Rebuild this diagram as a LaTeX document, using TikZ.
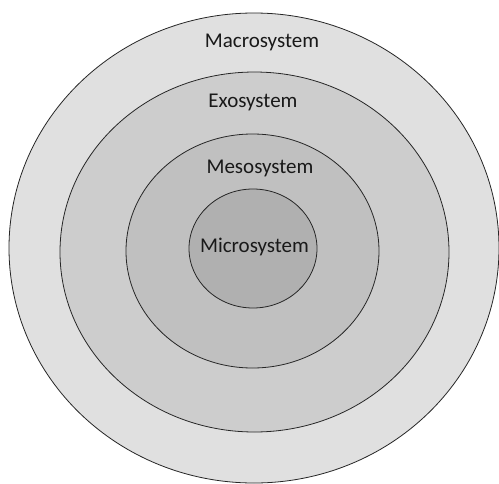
\documentclass[tikz,border=0pt]{standalone}
\usepackage{fontspec}
\setmainfont{Carlito}
\usetikzlibrary{positioning}
\definecolor{macrocol}{RGB}{224,224,224}
\definecolor{exocol}{RGB}{205,205,205}
\definecolor{mesocol}{RGB}{192,192,192}
\definecolor{microcol}{RGB}{176,176,176}
\tikzset{
    ring/.style={draw=black!85, line width=0.8pt},
    ringlabel/.style={font=\fontsize{21}{25}\selectfont, text=black!90, inner sep=0pt}
}
\begin{document}
\begin{tikzpicture}[x=1pt,y=-1pt]
            \useasboundingbox (0,0) rectangle (499,483);
            \clip (0,0) rectangle (499,483);
            % sistemi
            \draw[ring, fill=macrocol](254,248) ellipse [x radius=245, y radius=235];
            \draw[ring, fill=exocol](254.5,252) ellipse [x radius=194.5, y radius=180];
            \draw[ring, fill=mesocol](252.5,251) ellipse [x radius=126.5, y radius=117];
            \draw[ring, fill=microcol](253,248.5) ellipse [x radius=64, y radius=59.5];
            %label
            \node[ringlabel] (macro) at (262,42) {Macrosystem};
            \node[ringlabel] (exo) at (253,102) {Exosystem};
            \node[ringlabel] (meso) at (260,168) {Mesosystem};
            \node[ringlabel] (micro) at (254.5,247) {Microsystem};
        \end{tikzpicture}
\end{document}
